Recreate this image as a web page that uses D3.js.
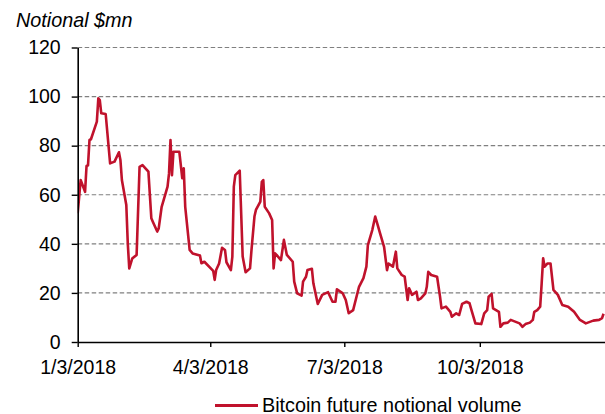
<!DOCTYPE html>
<html>
<head>
<meta charset="utf-8">
<script src="https://cdn.jsdelivr.net/npm/d3@7"></script>
<style>
  body { margin: 0; background: #fff; }
  svg { display: block; font-family: "Liberation Sans", Arial, sans-serif; }
</style>
</head>
<body>
<svg id="chart" width="605" height="414"></svg>
<script>
// notional volume, $mn
let dates = [
  "2018-01-03","2018-01-05","2018-01-08","2018-01-09","2018-01-10","2018-01-11","2018-01-12","2018-01-16","2018-01-17","2018-01-18",
  "2018-01-19","2018-01-22","2018-01-25","2018-01-28","2018-01-31","2018-02-01","2018-02-02","2018-02-05","2018-02-06","2018-02-07",
  "2018-02-09","2018-02-12","2018-02-14","2018-02-16","2018-02-20","2018-02-22","2018-02-23","2018-02-26","2018-02-27","2018-03-01",
  "2018-03-05","2018-03-06","2018-03-07","2018-03-08","2018-03-09","2018-03-13","2018-03-15","2018-03-16","2018-03-17","2018-03-20",
  "2018-03-22","2018-03-27","2018-03-28","2018-03-30","2018-04-05","2018-04-06","2018-04-07","2018-04-09","2018-04-11","2018-04-13",
  "2018-04-14","2018-04-17","2018-04-18","2018-04-19","2018-04-20","2018-04-23","2018-04-25","2018-04-27","2018-04-30","2018-05-01",
  "2018-05-03","2018-05-04","2018-05-07","2018-05-08","2018-05-09","2018-05-10","2018-05-13","2018-05-15","2018-05-16","2018-05-17",
  "2018-05-18","2018-05-21","2018-05-23","2018-05-25","2018-05-29","2018-05-30","2018-06-01","2018-06-04","2018-06-05","2018-06-07",
  "2018-06-08","2018-06-11","2018-06-12","2018-06-15","2018-06-18","2018-06-22","2018-06-25","2018-06-27","2018-06-28","2018-07-02",
  "2018-07-04","2018-07-06","2018-07-09","2018-07-13","2018-07-16","2018-07-18","2018-07-19","2018-07-22","2018-07-24","2018-07-26",
  "2018-07-27","2018-07-30","2018-08-01","2018-08-02","2018-08-05","2018-08-07","2018-08-08","2018-08-11","2018-08-13","2018-08-15",
  "2018-08-16","2018-08-18","2018-08-21","2018-08-22","2018-08-24","2018-08-27","2018-08-28","2018-08-29","2018-08-31","2018-09-04",
  "2018-09-06","2018-09-07","2018-09-10","2018-09-13","2018-09-14","2018-09-17","2018-09-19","2018-09-21","2018-09-24","2018-09-26",
  "2018-09-27","2018-09-30","2018-10-04","2018-10-06","2018-10-08","2018-10-09","2018-10-11","2018-10-12","2018-10-16","2018-10-17",
  "2018-10-19","2018-10-22","2018-10-24","2018-10-27","2018-10-30","2018-11-01","2018-11-03","2018-11-06","2018-11-08","2018-11-09",
  "2018-11-11","2018-11-13","2018-11-14","2018-11-15","2018-11-16","2018-11-18","2018-11-20","2018-11-22","2018-11-25","2018-11-28",
  "2018-12-02","2018-12-06","2018-12-10","2018-12-14","2018-12-19","2018-12-23","2018-12-25","2018-12-26"
];

let volume = [
  52.4, 66, 61.2, 71.7, 72, 82.3, 82.6, 89.8, 99.3, 98.6,
  93.2, 92.9, 72.8, 73.5, 77.3, 74.2, 66, 55.8, 40.2, 30,
  34, 35.5, 71.4, 72.1, 69.4, 50.4, 49, 45, 46.3, 55.1,
  63.3, 68.7, 82.3, 68, 77.5, 77.5, 66.7, 70.8, 55.1, 37.5,
  36.1, 35.2, 32.1, 32.7, 29, 25.3, 29.3, 32, 38.4, 37.5,
  32.5, 29.3, 34.8, 63.3, 68, 69.8, 34.8, 28.4, 30, 37.5,
  51.1, 53.8, 57.2, 65.3, 66, 55.1, 52.4, 49.7, 30, 36.1,
  35.5, 33.4, 41.6, 35.5, 32.7, 24.6, 19.8, 18.9, 24.6, 26.6,
  29.3, 29.8, 23.9, 15.5, 19.2, 20.3, 16.4, 16.4, 21.5, 19.8,
  17.1, 11.7, 13, 22.5, 26, 30.7, 39.5, 45.6, 51.1, 47,
  44.9, 38.8, 29.3, 32, 30.7, 36.8, 30, 27.3, 26.6, 17.1,
  21.9, 19.2, 20.5, 17.1, 17.8, 19.8, 22.5, 28.6, 27.3, 26.6,
  18.5, 13.7, 14.4, 12.3, 10.3, 11.7, 11, 15.5, 16.4, 15.8,
  13.7, 7.6, 7.3, 11.7, 13, 18.5, 19.6, 13.7, 12.3, 6.2,
  7.6, 7.9, 9, 8.3, 7.6, 6.2, 7.3, 7.9, 9, 12.3,
  13, 14.4, 23.9, 34.1, 30.7, 32, 32, 21.2, 19.2, 15.1,
  14.4, 12.3, 9, 7.6, 8.7, 9, 9.7, 11.5
];

let yTicks = [0, 20, 40, 60, 80, 100, 120];
let xTicks = ["2018-01-03", "2018-04-03", "2018-07-03", "2018-10-03"];
let xDomain = ["2018-01-03", "2018-12-27"];
let seriesName = "Bitcoin future notional volume";
let yTitle = "Notional $mn";

let parse = d3.timeParse("%Y-%m-%d");
let data = dates.map(function(d, i) { return {date: parse(d), value: volume[i]}; });

let plotLeft = 77.7, plotRight = 605, plotTop = 47.5, plotBottom = 342;
let lineColor = "#c0122c";

let svg = d3.select("#chart");

let x = d3.scaleTime()
    .domain(xDomain.map(parse))
    .range([plotLeft, plotRight]);

let y = d3.scaleLinear()
    .domain([0, 120])
    .range([plotBottom, plotTop]);

// dashed gridlines
svg.append("g")
    .selectAll("line")
    .data(yTicks.filter(function(d) { return d > 0; }))
    .enter().append("line")
    .attr("x1", plotLeft)
    .attr("x2", plotRight)
    .attr("y1", function(d) { return y(d); })
    .attr("y2", function(d) { return y(d); })
    .attr("stroke", "#808080")
    .attr("stroke-width", 1.1)
    .attr("stroke-dasharray", "4.5,2.5");

svg.append("clipPath").attr("id", "plotclip")
    .append("rect")
    .attr("x", plotLeft).attr("y", 0)
    .attr("width", plotRight - plotLeft).attr("height", plotBottom + 2);

let line = d3.line()
    .x(function(d) { return x(d.date); })
    .y(function(d) { return y(d.value); });

svg.append("path")
    .datum(data)
    .attr("clip-path", "url(#plotclip)")
    .attr("fill", "none")
    .attr("stroke", lineColor)
    .attr("stroke-width", 2.6)
    .attr("stroke-linejoin", "round")
    .attr("d", line);

let yAxis = d3.axisLeft(y)
    .tickValues(yTicks)
    .tickSize(6)
    .tickPadding(11)
    .tickSizeOuter(0);

let xAxis = d3.axisBottom(x)
    .tickValues(xTicks.map(parse))
    .tickFormat(d3.timeFormat("%-m/%-d/%Y"))
    .tickSize(5)
    .tickPadding(13)
    .tickSizeOuter(0);

let gy = svg.append("g")
    .attr("transform", "translate(" + plotLeft + ",0)")
    .call(yAxis);

let gx = svg.append("g")
    .attr("transform", "translate(0," + plotBottom + ")")
    .call(xAxis);

[gx, gy].forEach(function(g) {
    g.selectAll(".domain").attr("stroke", "#000").attr("stroke-width", 1.6);
    g.selectAll(".tick line").attr("stroke", "#000").attr("stroke-width", 1.4);
    g.selectAll("text").attr("fill", "#000").style("font-size", "19.5px");
});

svg.append("text")
    .attr("x", 16)
    .attr("y", 26.5)
    .style("font-size", "19.8px")
    .style("font-style", "italic")
    .attr("fill", "#000")
    .text(yTitle);

// legend
let legend = svg.append("g")
    .attr("transform", "translate(215,405.5)");

legend.append("line")
    .attr("x1", 0).attr("x2", 43)
    .attr("y1", 0).attr("y2", 0)
    .attr("stroke", lineColor)
    .attr("stroke-width", 3);

legend.append("text")
    .attr("x", 47)
    .attr("y", 6)
    .style("font-size", "19.8px")
    .attr("fill", "#000")
    .text(seriesName);
</script>
</body>
</html>
